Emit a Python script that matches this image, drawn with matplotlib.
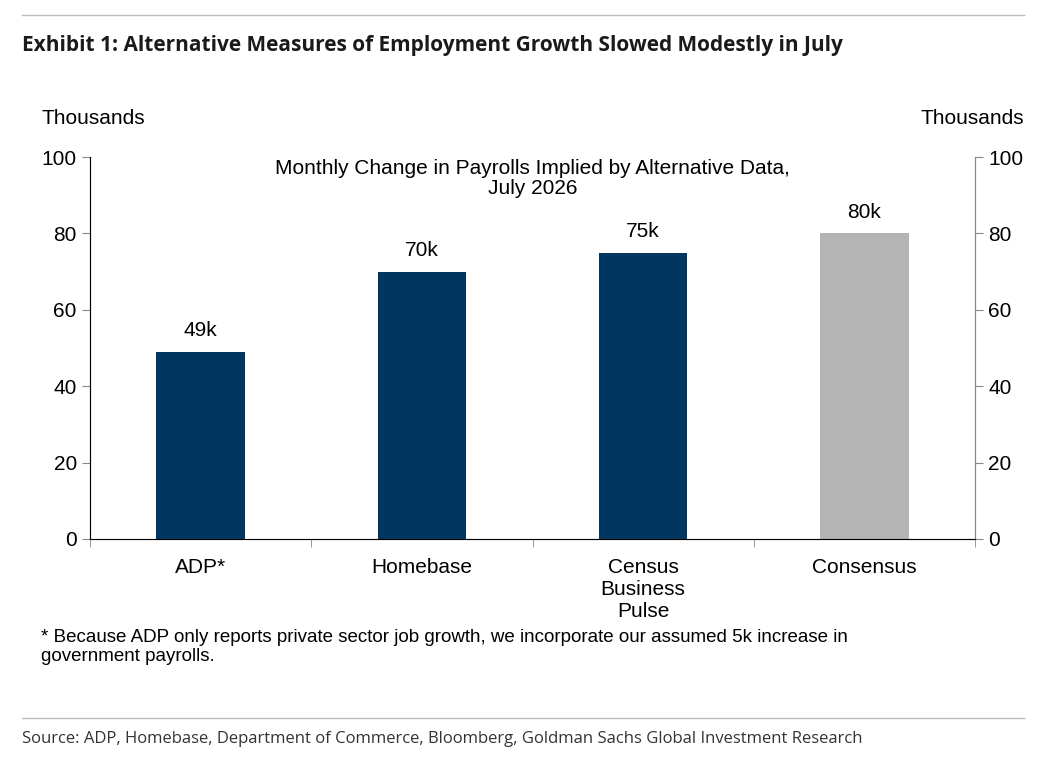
import numpy as np
import matplotlib.pyplot as plt
from matplotlib.lines import Line2D

categories = ["ADP*", "Homebase", "Census\nBusiness\nPulse", "Consensus"]
values = [49, 70, 75, 80]
labels = ["49k", "70k", "75k", "80k"]
colors = ["#003660", "#003660", "#003660", "#b4b4b4"]

plt.rcParams['font.family'] = ['Liberation Sans', 'DejaVu Sans']

fig = plt.figure(figsize=(10.54, 7.59), dpi=100)
ax = fig.add_axes([0.0854, 0.2899, 0.8397, 0.5032])
x = np.arange(len(categories))
ax.bar(x, values, width=0.4, color=colors)
for xi, v, l in zip(x, values, labels):
    ax.text(xi, v + 3, l, ha='center', va='bottom', fontsize=15)

ax.set_xlim(-0.5, 3.5)
ax.set_ylim(0, 100)
ax.set_yticks(range(0, 101, 20))
ax.tick_params(axis='y', labelsize=15, length=6, color='#888888')
ax.set_xticks(x)
ax.set_xticklabels(categories, fontsize=15, va='top')
ax.tick_params(axis='x', length=0, pad=14)
ax.set_xticks(np.arange(-0.5, 3.6, 1), minor=True)
ax.tick_params(axis='x', which='minor', length=6, color='#888888')
for s in ['top']:
    ax.spines[s].set_visible(False)
for s in ['left', 'right', 'bottom']:
    ax.spines[s].set_color('#888888')

ax2 = ax.twinx()
ax2.set_ylim(0, 100)
ax2.set_yticks(range(0, 101, 20))
ax2.tick_params(axis='y', labelsize=15, length=6, color='#888888')
ax2.spines['top'].set_visible(False)
ax2.spines['right'].set_color('#888888')

fig.text(0.039, 0.837, "Thousands", fontsize=15)
fig.text(0.972, 0.837, "Thousands", fontsize=15, ha='right')
ax.text(0.5, 0.995, "Monthly Change in Payrolls Implied by Alternative Data,\nJuly 2026",
        transform=ax.transAxes, ha='center', va='top', fontsize=15, linespacing=1.1)

fig.add_artist(Line2D([0.021, 0.972], [0.980, 0.980], color='#bbbbbb', lw=1))
fig.text(0.021, 0.940, "Exhibit 1: Alternative Measures of Employment Growth Slowed Modestly in July",
         fontsize=15, fontweight='bold', color='#1a1a1a', family=['Open Sans', 'DejaVu Sans'], va='center')
fig.text(0.039, 0.147, "* Because ADP only reports private sector job growth, we incorporate our assumed 5k increase in\ngovernment payrolls.",
         fontsize=13.5, va='center', linespacing=1.15)
fig.add_artist(Line2D([0.021, 0.972], [0.054, 0.054], color='#bbbbbb', lw=1))
fig.text(0.021, 0.026, "Source: ADP, Homebase, Department of Commerce, Bloomberg, Goldman Sachs Global Investment Research",
         fontsize=12, color='#333333', family=['Open Sans', 'DejaVu Sans'], va='center')

fig.savefig("out.png", dpi=100)
